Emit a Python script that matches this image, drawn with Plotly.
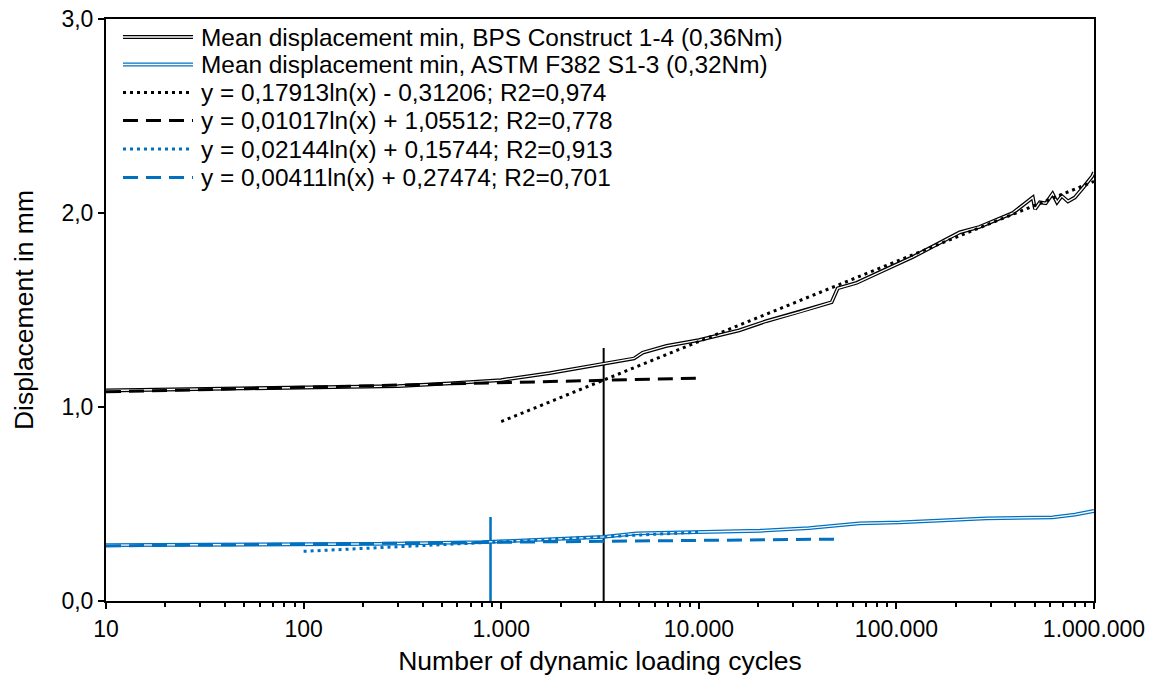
import plotly.graph_objects as go

# ---------------- data ----------------
bps_x = [10, 30, 100, 300, 550, 1000, 1760, 3100, 4700, 5200, 6870, 10000, 16000, 22000,
         32400, 47000, 50500, 63000, 82000, 104000, 121000, 209000, 263000, 388000,
         490000, 503000, 532000, 570000, 617000, 650000, 687000, 738000, 800000, 880000,
         980000, 1000000]
bps_y = [1.085, 1.093, 1.100, 1.108, 1.122, 1.139, 1.175, 1.218, 1.250, 1.280, 1.315, 1.345,
         1.395, 1.443, 1.490, 1.540, 1.612, 1.640, 1.695, 1.745, 1.773, 1.900, 1.928, 2.000,
         2.080, 2.020, 2.055, 2.050, 2.100, 2.055, 2.088, 2.060, 2.080, 2.130, 2.190, 2.210]

astm_x = [10, 50, 240, 800, 2000, 3300, 4850, 20400, 36000, 65000, 104000, 286000, 617000,
          800000, 1000000]
astm_y = [0.288, 0.292, 0.294, 0.303, 0.320, 0.331, 0.349, 0.362, 0.376, 0.400, 0.405, 0.426,
          0.431, 0.445, 0.464]

# trend lines (straight on a log x axis: end points)
trend_bps_log_x = [1000, 1000000]
trend_bps_log_y = [0.925, 2.163]
trend_bps_flat_x = [10, 10000]
trend_bps_flat_y = [1.078, 1.149]
trend_astm_log_x = [100, 10000]
trend_astm_log_y = [0.256, 0.355]
trend_astm_flat_x = [10, 50000]
trend_astm_flat_y = [0.284, 0.319]

# vertical markers
vline_bps_x = [3300, 3300]
vline_bps_y = [0.0, 1.304]
vline_astm_x = [883, 883]
vline_astm_y = [0.0, 0.433]

legend_labels = [
    "Mean displacement min, BPS Construct 1-4 (0,36Nm)",
    "Mean displacement min, ASTM F382 S1-3 (0,32Nm)",
    "y = 0,17913ln(x) - 0,31206; R2=0,974",
    "y = 0,01017ln(x) + 1,05512; R2=0,778",
    "y = 0,02144ln(x) + 0,15744; R2=0,913",
    "y = 0,00411ln(x) + 0,27474; R2=0,701",
]

x_tickvals = [10, 100, 1000, 10000, 100000, 1000000]
x_ticktext = ["10", "100", "1.000", "10.000", "100.000", "1.000.000"]
y_tickvals = [0, 1, 2, 3]
y_ticktext = ["0,0", "1,0", "2,0", "3,0"]

BLACK = "#000000"
BLUE = "#0070C0"
FONT = "Liberation Sans, Arial, sans-serif"

W, H = 1157, 677
ML, MR, MT, MB = 106, 63, 19, 76
PW, PH = W - ML - MR, H - MT - MB

fig = go.Figure()

def add(x, y, color, width, dash="solid"):
    fig.add_trace(go.Scatter(x=x, y=y, mode="lines", showlegend=False, hoverinfo="skip",
                             line=dict(color=color, width=width, dash=dash)))

# vertical lines
add(vline_bps_x, vline_bps_y, BLACK, 2)
add(vline_astm_x, vline_astm_y, BLUE, 2.5)
# data (double lines)
add(bps_x, bps_y, BLACK, 3.8)
add(bps_x, bps_y, "#FFFFFF", 1.3)
add(astm_x, astm_y, BLUE, 3.8)
add(astm_x, astm_y, "#FFFFFF", 1.3)
# trend lines
add(trend_bps_log_x, trend_bps_log_y, BLACK, 3, "3px,4px")
add(trend_bps_flat_x, trend_bps_flat_y, BLACK, 3, "15px,8px")
add(trend_astm_log_x, trend_astm_log_y, BLUE, 3, "3px,4px")
add(trend_astm_flat_x, trend_astm_flat_y, BLUE, 3, "15px,8px")

# manual legend
row_px = [37, 64.5, 92.5, 120.5, 149, 177.5]
styles = [
    [(BLACK, 3.8, "solid"), ("#FFFFFF", 1.3, "solid")],
    [(BLUE, 3.8, "solid"), ("#FFFFFF", 1.3, "solid")],
    [(BLACK, 3, "3px,4px")],
    [(BLACK, 3, "15px,8px")],
    [(BLUE, 3, "3px,4px")],
    [(BLUE, 3, "15px,8px")],
]
shapes = []
annotations = []
def px2x(px):
    return (px - ML) / PW
def py2y(py):
    return (H - MB - py) / PH
for lab, py, st in zip(legend_labels, row_px, styles):
    for col, w, d in st:
        shapes.append(dict(type="line", xref="paper", yref="paper",
                           x0=px2x(123), x1=px2x(193), y0=py2y(py), y1=py2y(py),
                           line=dict(color=col, width=w, dash=d)))
    annotations.append(dict(text=lab, xref="paper", yref="paper", x=px2x(199), y=py2y(py),
                            xanchor="left", yanchor="middle", showarrow=False,
                            font=dict(family=FONT, size=24.4, color=BLACK)))

fig.update_layout(
    width=W, height=H,
    margin=dict(l=ML, r=MR, t=MT, b=MB, autoexpand=False),
    paper_bgcolor="white", plot_bgcolor="white",
    font=dict(family=FONT, size=23, color=BLACK),
    shapes=shapes, annotations=annotations,
    showlegend=False,
)
fig.update_xaxes(
    type="log", range=[1, 6], automargin=False,
    tickvals=x_tickvals, ticktext=x_ticktext,
    ticks="outside", ticklen=6, tickwidth=2, tickcolor=BLACK,
    showline=True, linewidth=2, linecolor=BLACK, mirror=True,
    showgrid=False, zeroline=False,
    minor=dict(ticks="outside", ticklen=4, tickwidth=2, tickcolor=BLACK, dtick="D1", showgrid=False),
    title=dict(text="Number of dynamic loading cycles", font=dict(size=26.5), standoff=11),
    tickfont=dict(size=23),
)
fig.update_yaxes(
    range=[0, 3], automargin=False,
    tickvals=y_tickvals, ticktext=y_ticktext,
    ticks="outside", ticklen=6, tickwidth=2, tickcolor=BLACK,
    showline=True, linewidth=2, linecolor=BLACK, mirror=True,
    showgrid=False, zeroline=False,
    title=dict(text="Displacement in mm", font=dict(size=26.5), standoff=20),
    tickfont=dict(size=23),
)

fig.write_html("out.html")
